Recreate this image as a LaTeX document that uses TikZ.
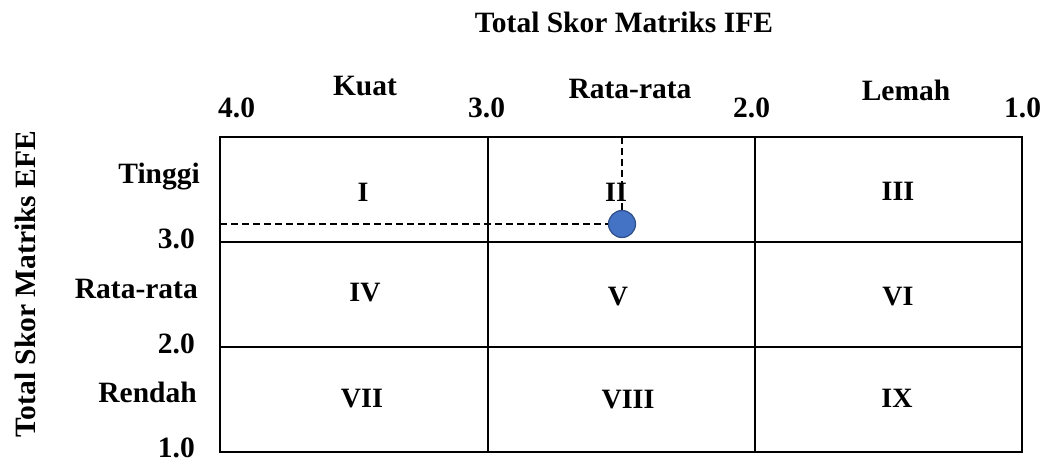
\documentclass[tikz,border=0pt]{standalone}
\usepackage{fontspec}
\setmainfont{Liberation Serif}
\usepackage{xcolor}
\usepackage{tikz}
\usetikzlibrary{positioning}
\definecolor{dotblue}{HTML}{4472C4}
\definecolor{dotedge}{HTML}{2F4F8A}

\begin{document}
\begin{tikzpicture}[x=1pt, y=-1pt,
    lbl/.style={font=\fontsize{29.5}{32}\selectfont\bfseries, inner sep=0pt},
    zone/.style={font=\fontsize{28}{30}\selectfont\bfseries, inner sep=0pt, anchor=base},
    guide/.style={dash pattern=on 7pt off 4pt, line width=1.7pt}]
  \useasboundingbox (0,0) rectangle (1042,464);

  % matrix grid
  \draw[line width=2pt] (220,137) rectangle (1022,452);
  \draw[line width=2pt] (488,137) -- (488,452) (755,137) -- (755,452)
                        (220,242) -- (1022,242) (220,347) -- (1022,347);

  % axis titles
  \node[lbl, anchor=base] (ife) at (624,32) {Total Skor Matriks IFE};
  \node[lbl, rotate=90, anchor=base] (efe) at (35,284) {Total Skor Matriks EFE};

  % IFE scale
  \node[lbl, anchor=base west] (x4) at (218,117) {4.0};
  \node[lbl, anchor=base west] (x3) at (468,117) {3.0};
  \node[lbl, anchor=base west] (x2) at (733,117) {2.0};
  \node[lbl, anchor=base west] (x1) at (1004,117) {1.0};
  \node[lbl, anchor=base] (kuat) at (365,95) {Kuat};
  \node[lbl, anchor=base] (rata) at (630,98) {Rata-rata};
  \node[lbl, anchor=base] (lemah) at (906,100) {Lemah};

  % EFE scale
  \node[lbl, anchor=base east] (tinggi) at (200,183) {Tinggi};
  \node[lbl, anchor=base east] (y3) at (195,248) {3.0};
  \node[lbl, anchor=base east] (sedang) at (198,298) {Rata-rata};
  \node[lbl, anchor=base east] (y2) at (195,353) {2.0};
  \node[lbl, anchor=base east] (rendah) at (197,402) {Rendah};
  \node[lbl, anchor=base east] (y1) at (195,457) {1.0};

  % cells
  \node[zone] (c1) at (363,201) {I};
  \node[zone] (c2) at (616,201) {II};
  \node[zone] (c3) at (898,200) {III};
  \node[zone] (c4) at (365,301) {IV};
  \node[zone] (c5) at (618,305) {V};
  \node[zone] (c6) at (898,305) {VI};
  \node[zone] (c7) at (362,407) {VII};
  \node[zone] (c8) at (628,408) {VIII};
  \node[zone] (c9) at (897,407) {IX};

  % position
  \coordinate (topend) at (622,137);
  \coordinate (leftend) at (220,224);
  \node[circle, fill=dotblue, draw=dotedge, line width=1.2pt,
        minimum size=27pt, inner sep=0pt] (pos) at (622,224) {};
  \draw[guide] (topend) -- (pos.north);
  \draw[guide] (leftend) -- (pos.west);
\end{tikzpicture}
\end{document}
